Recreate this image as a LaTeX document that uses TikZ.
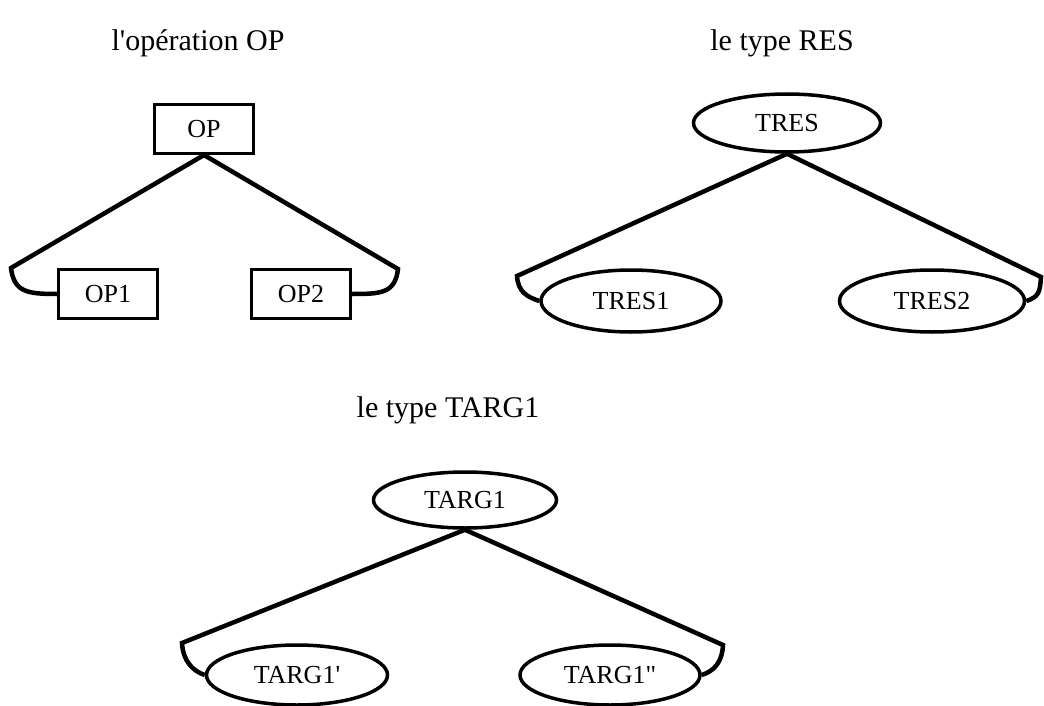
\documentclass[tikz,border=0pt]{standalone}
\usepackage{fontspec}
\setmainfont{Liberation Serif}
\usepackage{tikz}
\usetikzlibrary{shapes}

\begin{document}
\begin{tikzpicture}[x=1pt,y=-1pt,
	titre/.style={font=\fontsize{30}{36}\selectfont},
	boite/.style={draw,rectangle,line width=3pt,minimum width=99pt,minimum height=49pt,inner sep=0pt,font=\fontsize{26}{31}\selectfont},
	type/.style={draw,ellipse,line width=3.5pt,minimum width=183pt,minimum height=60pt,inner sep=0pt,font=\fontsize{26}{31}\selectfont},
	lien/.style={line width=4.5pt},
	]
	\useasboundingbox (0,0) rectangle (1044,706);
	\node[titre] (titreop) at (198,43) {l\textquotesingle op\'eration OP};
	\node[titre] (titreres) at (782,43) {le type RES};
	\node[titre] (titretarg) at (448,410) {le type TARG1};

	\node[boite] (op) at (204,129) {OP};
	\node[boite] (op1) at (108,294) {OP1};
	\node[boite] (op2) at (301,294) {OP2};
	\coordinate (opg) at (11,268);
	\coordinate (opd) at (398,269);
	\draw[lien] (op.south) -- (opg) .. controls +(3,24) and +(-30,0) .. (op1.west);
	\draw[lien] (op.south) -- (opd) .. controls +(-3,24) and +(30,0) .. (op2.east);

	\node[type,minimum width=187pt,minimum height=58pt] (tres) at (787,123) {TRES};
	\node[type,minimum width=180pt,minimum height=62pt] (tres1) at (631,301) {TRES1};
	\node[type,minimum width=185pt,minimum height=62pt] (tres2) at (932,301) {TRES2};
	\coordinate (tresg) at (517,276);
	\coordinate (tresd) at (1041,277);
	\draw[lien] (tres.south) -- (tresg) .. controls +(1,16) and +(-12,-4) .. (tres1.west);
	\draw[lien] (tres.south) -- (tresd) .. controls +(-1,16) and +(12,-4) .. (tres2.east);

	\node[type,minimum height=56pt] (targ) at (465,500) {TARG1};
	\node[type,minimum width=181pt] (targa) at (297,675) {TARG1\textquotesingle};
	\node[type,minimum width=180pt] (targb) at (610,675) {TARG1\textquotedbl};
	\coordinate (targg) at (182,643);
	\coordinate (targd) at (723,645);
	\draw[lien] (targ.south) -- (targg) .. controls +(1,18) and +(-12,-4) .. (targa.west);
	\draw[lien] (targ.south) -- (targd) .. controls +(-1,18) and +(12,-4) .. (targb.east);
\end{tikzpicture}
\end{document}
